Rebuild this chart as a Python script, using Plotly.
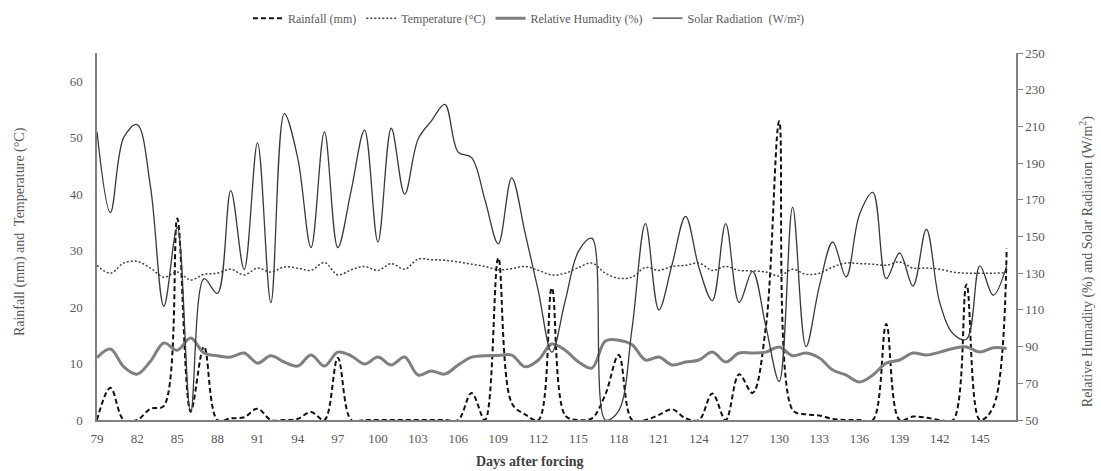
import plotly.graph_objects as go

days = [79, 80, 81, 82, 83, 84, 85, 86, 87, 88, 89, 90, 91, 92, 93, 94, 95, 96, 97, 98,
        99, 100, 101, 102, 103, 104, 105, 106, 107, 108, 109, 110, 111, 112, 113, 114, 115, 116, 117, 118,
        119, 120, 121, 122, 123, 124, 125, 126, 127, 128, 129, 130, 131, 132, 133, 134, 135, 136, 137, 138,
        139, 140, 141, 142, 143, 144, 145, 146, 147]

rainfall = [0, 5.7, 0, 0, 2.0, 2.5, 35.7, 1.5, 13, 0, 0.3, 0.5, 2.0, 0, 0, 0.2, 1.4, 0, 11, 0,
            0, 0, 0, 0, 0, 0, 0, 0, 4.8, 0, 28.7, 3.0, 1.0, 0, 23.4, 0.8, 0, 0.3, 4.5, 11.5,
            0, 0, 0.9, 1.9, 0.3, 0, 4.7, 0, 8.1, 4.8, 16.5, 52.9, 1.8, 1.0, 0.8, 0.2, 0, 0, 0, 17,
            0, 0.6, 0.4, 0, 0, 24, 0, 2.3, 30.4]

temperature = [27.4, 26.0, 27.8, 28.1, 26.9, 25.3, 26.2, 24.8, 25.8, 26.0, 26.7, 25.7, 26.9, 26.2, 27.1, 26.9, 26.5, 27.9, 25.7, 26.6,
               27.2, 26.5, 27.7, 26.7, 28.5, 28.4, 28.3, 28.0, 27.6, 27.2, 26.6, 26.8, 27.2, 26.5, 25.7, 26.0, 27.0, 27.8, 26.0, 25.1,
               25.3, 27.0, 26.5, 27.2, 27.4, 27.8, 26.5, 27.2, 26.5, 26.4, 26.2, 25.5, 26.7, 25.8, 26.0, 27.1, 27.8, 27.7, 27.6, 27.4,
               28.0, 26.9, 26.9, 26.7, 26.2, 26.0, 26.0, 26.0, 26.1]

humidity = [84, 88.7, 79, 75, 82, 92, 88, 94.7, 86.5, 85, 84.3, 86.5, 81, 85, 81.6, 79.4, 85.4, 79.4, 87, 85,
            80.5, 84.3, 80, 84.3, 74.5, 76.7, 75, 80, 84.3, 85, 85.2, 85.4, 79, 82.7, 91.4, 88, 81.6, 78.3, 93, 93.5,
            91, 82.7, 84.3, 80, 81.6, 82.7, 87, 81.6, 86.5, 86.5, 87, 89.8, 85, 86.5, 83.8, 77.2, 74.5, 70.7, 74.5, 81,
            82.7, 86.5, 85.4, 87, 89, 89.8, 87, 89.4, 89]

solar = [207, 163, 204, 211, 177, 112, 155, 54, 127, 119, 175, 132, 201, 114, 217, 193, 144, 207, 144, 175,
         208, 147, 209, 173, 203, 213, 222, 196, 193, 170, 146, 182, 152, 120, 87, 115, 142, 149, 50, 55,
         100, 157, 110, 135, 161, 133, 115, 157, 114, 131, 101, 71, 166, 90, 123, 147, 128, 162, 174, 127,
         141, 123, 154, 114, 97, 94, 134, 118, 134]

x_ticks = [79, 82, 85, 88, 91, 94, 97, 100, 103, 106, 109, 112, 115, 118, 121, 124, 127, 130, 133, 136, 139, 142, 145]
left_ticks = [0, 10, 20, 30, 40, 50, 60]
right_ticks = [50, 70, 90, 110, 130, 150, 170, 190, 210, 230, 250]

FONT = "Liberation Serif"
TXT = "#595959"
AX = "#808080"

fig = go.Figure()
fig.add_trace(go.Scatter(x=days, y=rainfall, name="Rainfall (mm)", mode="lines",
                         line=dict(color="#111111", width=2, dash="5px,3px", shape="spline", smoothing=1.0)))
fig.add_trace(go.Scatter(x=days, y=temperature, name="Temperature (°C)", mode="lines",
                         line=dict(color="#404040", width=1.5, dash="2px,2px", shape="spline", smoothing=1.0)))
fig.add_trace(go.Scatter(x=days, y=humidity, name="Relative Humadity (%)", mode="lines", yaxis="y2",
                         line=dict(color="#7f7f7f", width=3, shape="spline", smoothing=1.0)))
fig.add_trace(go.Scatter(x=days, y=solar, name="Solar Radiation  (W/m²)", mode="lines", yaxis="y2",
                         line=dict(color="#3a3a3a", width=1.3, shape="spline", smoothing=1.0)))

fig.update_layout(
    width=1101, height=471,
    margin=dict(l=97, r=85, t=53, b=51, autoexpand=False),
    paper_bgcolor="white", plot_bgcolor="white",
    font=dict(family=FONT, color=TXT, size=13),
    showlegend=True,
    legend=dict(orientation="h", x=0.47, xanchor="center", y=1.095, yanchor="middle",
                font=dict(family=FONT, size=12, color=TXT), itemwidth=30, traceorder="normal",
                tracegroupgap=0),
    xaxis=dict(range=[79, 147.7], tickmode="array", tickvals=x_ticks, ticktext=[str(v) for v in x_ticks],
               showline=True, linecolor=AX, linewidth=1.5, ticks="", showgrid=False, zeroline=False,
               ticklabelstandoff=6, automargin=False, tickfont=dict(family=FONT, size=13, color=TXT)),
    yaxis=dict(range=[0, 65], tickmode="array", tickvals=left_ticks, showline=True, linecolor=AX, linewidth=1.5,
               ticks="", showgrid=False, zeroline=False, ticklabelstandoff=10, automargin=False,
               tickfont=dict(family=FONT, size=13, color=TXT)),
    yaxis2=dict(range=[50, 250], tickmode="array", tickvals=right_ticks, overlaying="y", side="right",
                showline=True, linecolor=AX, linewidth=1.5, ticks="outside", ticklen=5, tickcolor=AX,
                showgrid=False, zeroline=False, automargin=False,
                tickfont=dict(family=FONT, size=13, color=TXT)),
)

fig.add_annotation(text="Rainfall (mm) and  Temperature (°C)", xref="paper", yref="paper",
                   x=(20 - 97) / 919, y=0.512, textangle=-90, showarrow=False,
                   xanchor="center", yanchor="middle", font=dict(family=FONT, size=14, color=TXT))
fig.add_annotation(text="Relative Humadity (%) and Solar Radiation (W/m<sup>2</sup>)", xref="paper", yref="paper",
                   x=(1086 - 97) / 919, y=0.43, textangle=-90, showarrow=False,
                   xanchor="center", yanchor="middle", font=dict(family=FONT, size=14, color=TXT))
fig.add_annotation(text="<b>Days after forcing</b>", xref="paper", yref="paper",
                   x=(530 - 97) / 919, y=(420 - 462) / 367, showarrow=False,
                   xanchor="center", yanchor="middle", font=dict(family=FONT, size=14, color="#404040"))

fig.write_html("out.html", config={"displayModeBar": False},
               post_script="document.body.style.margin='0';document.body.style.padding='0';")
